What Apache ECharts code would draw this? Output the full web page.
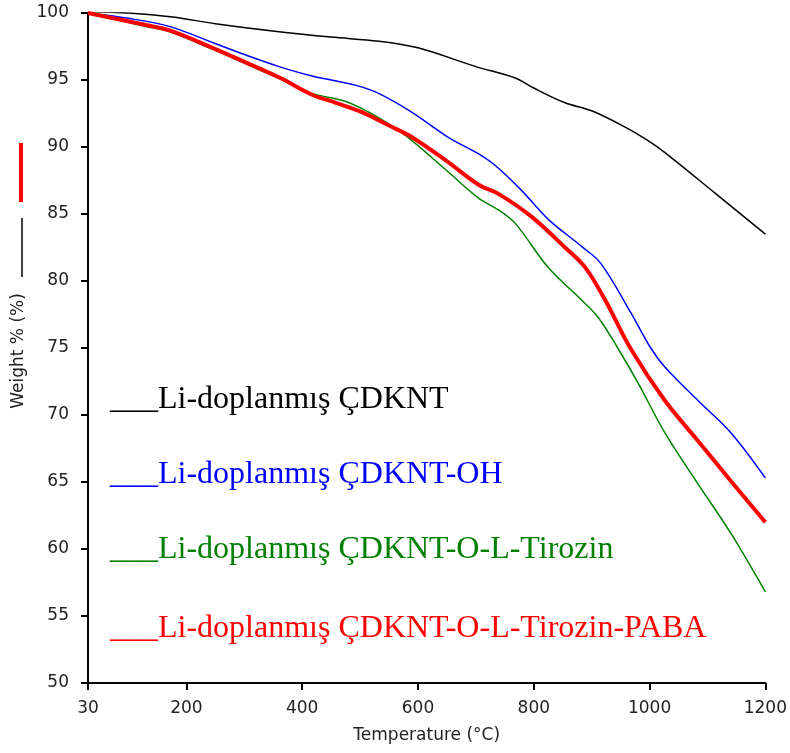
<!DOCTYPE html>
<html>
<head>
<meta charset="utf-8">
<script src="https://cdn.jsdelivr.net/npm/echarts@6/dist/echarts.min.js"></script>
<style>
    html, body { margin: 0; padding: 0; background: #fff; }
    #tga { width: 790px; height: 753px; }
</style>
</head>
<body>
<div id="tga"></div>
<script>
// x ticks shown on the temperature axis
var xTicks = [30, 200, 400, 600, 800, 1000, 1200];

// Li-doplanmış ÇDKNT
var tempBlack = [30, 100, 176, 250, 360, 450, 532, 600, 700, 768, 800, 854, 900, 957, 1000, 1026, 1112, 1200];
var wBlack = [100.1, 100.0, 99.7, 99.2, 98.6, 98.2, 97.9, 97.4, 96.0, 95.15, 94.4, 93.3, 92.7, 91.5, 90.4, 89.6, 86.6, 83.5];

// Li-doplanmış ÇDKNT-OH
var tempBlue = [30, 100, 170, 245, 300, 360, 417, 493, 532, 589, 653, 704, 734, 778, 825, 882, 916, 968, 1002, 1026, 1083, 1140, 1200];
var wBlue = [100, 99.6, 99.0, 97.8, 96.9, 96.0, 95.3, 94.6, 94.0, 92.6, 90.7, 89.5, 88.6, 86.8, 84.6, 82.6, 81.3, 77.6, 75.0, 73.6, 71.1, 68.7, 65.3];

// Li-doplanmış ÇDKNT-O-L-Tirozin
var tempGreen = [30, 130, 171, 245, 303, 360, 417, 475, 515, 550, 589, 648, 704, 739, 768, 825, 882, 911, 945, 980, 1026, 1083, 1140, 1200];
var wGreen = [100, 99.0, 98.6, 97.3, 96.2, 95.1, 94.0, 93.4, 92.6, 91.7, 90.5, 88.3, 86.2, 85.3, 84.3, 81.0, 78.6, 77.3, 75.0, 72.4, 68.7, 64.9, 61.2, 56.8];

// Li-doplanmış ÇDKNT-O-L-Tirozin-PABA
var tempRed = [30, 130, 171, 245, 303, 360, 417, 458, 503, 550, 589, 648, 704, 739, 796, 854, 889, 923, 968, 1026, 1083, 1140, 1200];
var wRed = [100, 99.1, 98.7, 97.4, 96.3, 95.2, 93.9, 93.3, 92.6, 91.6, 90.75, 89.0, 87.2, 86.5, 84.8, 82.5, 81.0, 78.6, 74.9, 71.1, 68.1, 65.1, 62.0];

var names = ['Li-doplanmış ÇDKNT', 'Li-doplanmış ÇDKNT-OH', 'Li-doplanmış ÇDKNT-O-L-Tirozin', 'Li-doplanmış ÇDKNT-O-L-Tirozin-PABA'];

function pairs(xs, ys) {
    var out = [];
    for (var i = 0; i < xs.length; i++) out.push([xs[i], ys[i]]);
    return out;
}

var chart = echarts.init(document.getElementById('tga'));

var axisFont = {color: '#222', fontFamily: 'DejaVu Sans', fontSize: 17};

function curve(name, data, color, width) {
    return {
        name: name,
        type: 'line',
        data: data,
        smooth: 0.35,
        showSymbol: false,
        silent: true,
        lineStyle: {color: color, width: width}
    };
}

var legendY = [402, 477, 552, 631];
var legendColors = ['#000000', '#0000ff', '#008000', '#ff0000'];
var legendTexts = names.map(function (n, i) {
    return {
        type: 'text',
        left: 110,
        top: legendY[i] - 18,
        style: {
            text: '___' + n,
            fill: legendColors[i],
            font: '32px "Liberation Serif", "Times New Roman", serif'
        }
    };
});

option = {
    animation: false,
    grid: {left: 88, right: 22, top: 13, bottom: 70},
    xAxis: {
        type: 'value',
        min: 30,
        max: 1200,
        name: 'Temperature (°C)',
        nameLocation: 'middle',
        nameGap: 44,
        nameTextStyle: {color: '#222', fontFamily: 'DejaVu Sans', fontSize: 17},
        axisLine: {lineStyle: {color: '#000', width: 2}},
        axisTick: {customValues: xTicks, length: 7, lineStyle: {color: '#000', width: 2}},
        axisLabel: Object.assign({
            customValues: xTicks,
            margin: 17,
            formatter: function (v) { return String(v); }
        }, axisFont),
        splitLine: {show: false}
    },
    yAxis: {
        type: 'value',
        min: 50,
        max: 100,
        interval: 5,
        axisLine: {show: true, lineStyle: {color: '#000', width: 2}},
        axisTick: {show: true, length: 7, lineStyle: {color: '#000', width: 2}},
        axisLabel: Object.assign({margin: 19}, axisFont),
        splitLine: {show: false}
    },
    graphic: legendTexts.concat([
        {
            type: 'text',
            x: 19,
            y: 351,
            rotation: Math.PI / 2,
            style: {
                text: 'Weight % (%)',
                fill: '#222',
                font: '17px "DejaVu Sans"',
                align: 'center',
                verticalAlign: 'middle'
            }
        },
        {
            type: 'line',
            shape: {x1: 21, y1: 143, x2: 21, y2: 202},
            style: {stroke: '#ff0000', lineWidth: 4}
        },
        {
            type: 'line',
            shape: {x1: 22, y1: 218, x2: 22, y2: 277},
            style: {stroke: '#000', lineWidth: 1.5}
        }
    ]),
    series: [
        curve(names[0], pairs(tempBlack, wBlack), '#000000', 1.5),
        curve(names[1], pairs(tempBlue, wBlue), '#0000ff', 1.5),
        curve(names[2], pairs(tempGreen, wGreen), '#008000', 1.5),
        curve(names[3], pairs(tempRed, wRed), '#ff0000', 4)
    ]
};

chart.setOption(option);
</script>
</body>
</html>
